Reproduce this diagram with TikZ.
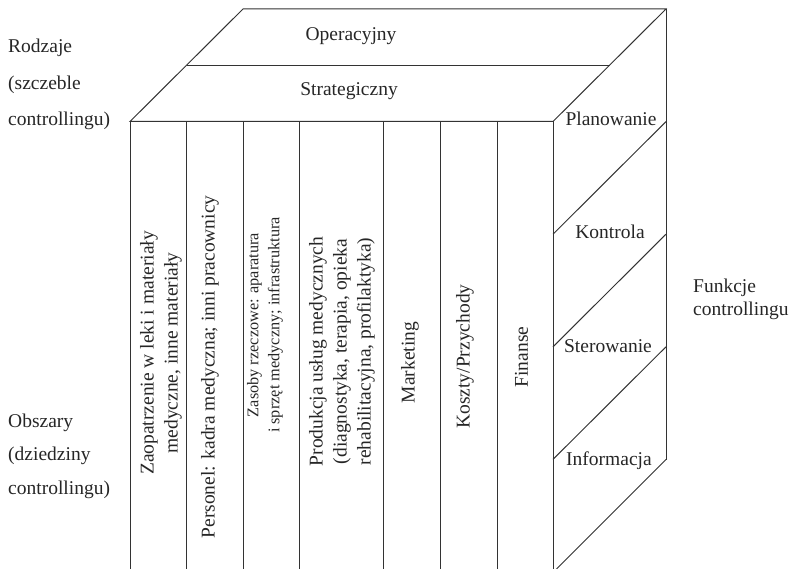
\documentclass[tikz,border=0pt]{standalone}
\usepackage{fontspec}
\setmainfont{Liberation Serif}
\begin{document}
\begin{tikzpicture}[x=1pt,y=-1pt,
  edge/.style={line width=1pt, draw=black!80},
  lab/.style={font=\fontsize{19.5}{24}\selectfont, inner sep=0pt, text=black!85},
  lbl/.style={lab, anchor=base},
  side/.style={lab, anchor=base west},
  col/.style={lab, rotate=90, align=center, anchor=center},
  colsmall/.style={col, font=\fontsize{16.3}{21}\selectfont}]
\useasboundingbox (0,0) rectangle (792,569);
% cube corners
\coordinate (FTL) at (130,121.5);
\coordinate (FTR) at (553,121.5);
\coordinate (BTL) at (243,9);
\coordinate (BTR) at (666,9);
\coordinate (BBR) at (666,459.5);
\coordinate (FBL) at (130,569);
\coordinate (FBR) at (553,569);
\coordinate (ML) at (186.5,65.25);
\coordinate (MR) at (609.5,65.25);
% top face
\draw[edge] (FTL) -- (BTL) -- (BTR) -- (FTR) -- cycle;
\draw[edge] (ML) -- (MR);
% front face
\draw[edge] (FTL) -- (FBL);
\draw[edge] (FTR) -- (FBR);
\foreach \x in {186.5,243,299,383,440,497}
  \draw[edge] (\x,121.5) -- (\x,569);
% right face
\draw[edge] (BTR) -- (BBR);
\foreach \k in {1,2,3}
  \draw[edge] (666,9+\k*112.6) -- (553,121.6+\k*112.6);
\draw[edge] (BBR) -- (556.5,569);
% top labels
\node[lbl] (op) at (351,40.5) {Operacyjny};
\node[lbl] (st) at (349,96) {Strategiczny};
% left labels
\node[side] (r1) at (8,53) {Rodzaje};
\node[side] (r2) at (8,90) {(szczeble};
\node[side] (r3) at (8,126) {controllingu)};
\node[side] (o1) at (8,427) {Obszary};
\node[side] (o2) at (8,460) {(dziedziny};
\node[side] (o3) at (8,494) {controllingu)};
% right labels
\node[side] (f1) at (693,292) {Funkcje};
\node[side] (f2) at (693,315) {controllingu};
\node[lbl] (pl) at (611,126) {Planowanie};
\node[lbl] (ko) at (610,239) {Kontrola};
\node[lbl] (sw) at (608,352.5) {Sterowanie};
\node[lbl] (in) at (609,465) {Informacja};
% columns
\node[col] (c1) at (161,353) {Zaopatrzenie w leki i materiały\\medyczne, inne materiały};
\node[col] (c2) at (210,367) {Personel: kadra medyczna; inni pracownicy};
\node[colsmall] (c3) at (265,325) {Zasoby rzeczowe: aparatura\\i sprzęt medyczny; infrastruktura};
\node[col] (c4) at (342,351.5) {Produkcja usług medycznych\\(diagnostyka, terapia, opieka\\rehabilitacyjna, profilaktyka)};
\node[col] (c5) at (410,362.5) {Marketing};
\node[col] (c6) at (465,356.5) {Koszty/Przychody};
\node[col] (c7) at (521.5,357) {Finanse};
\end{tikzpicture}
\end{document}
